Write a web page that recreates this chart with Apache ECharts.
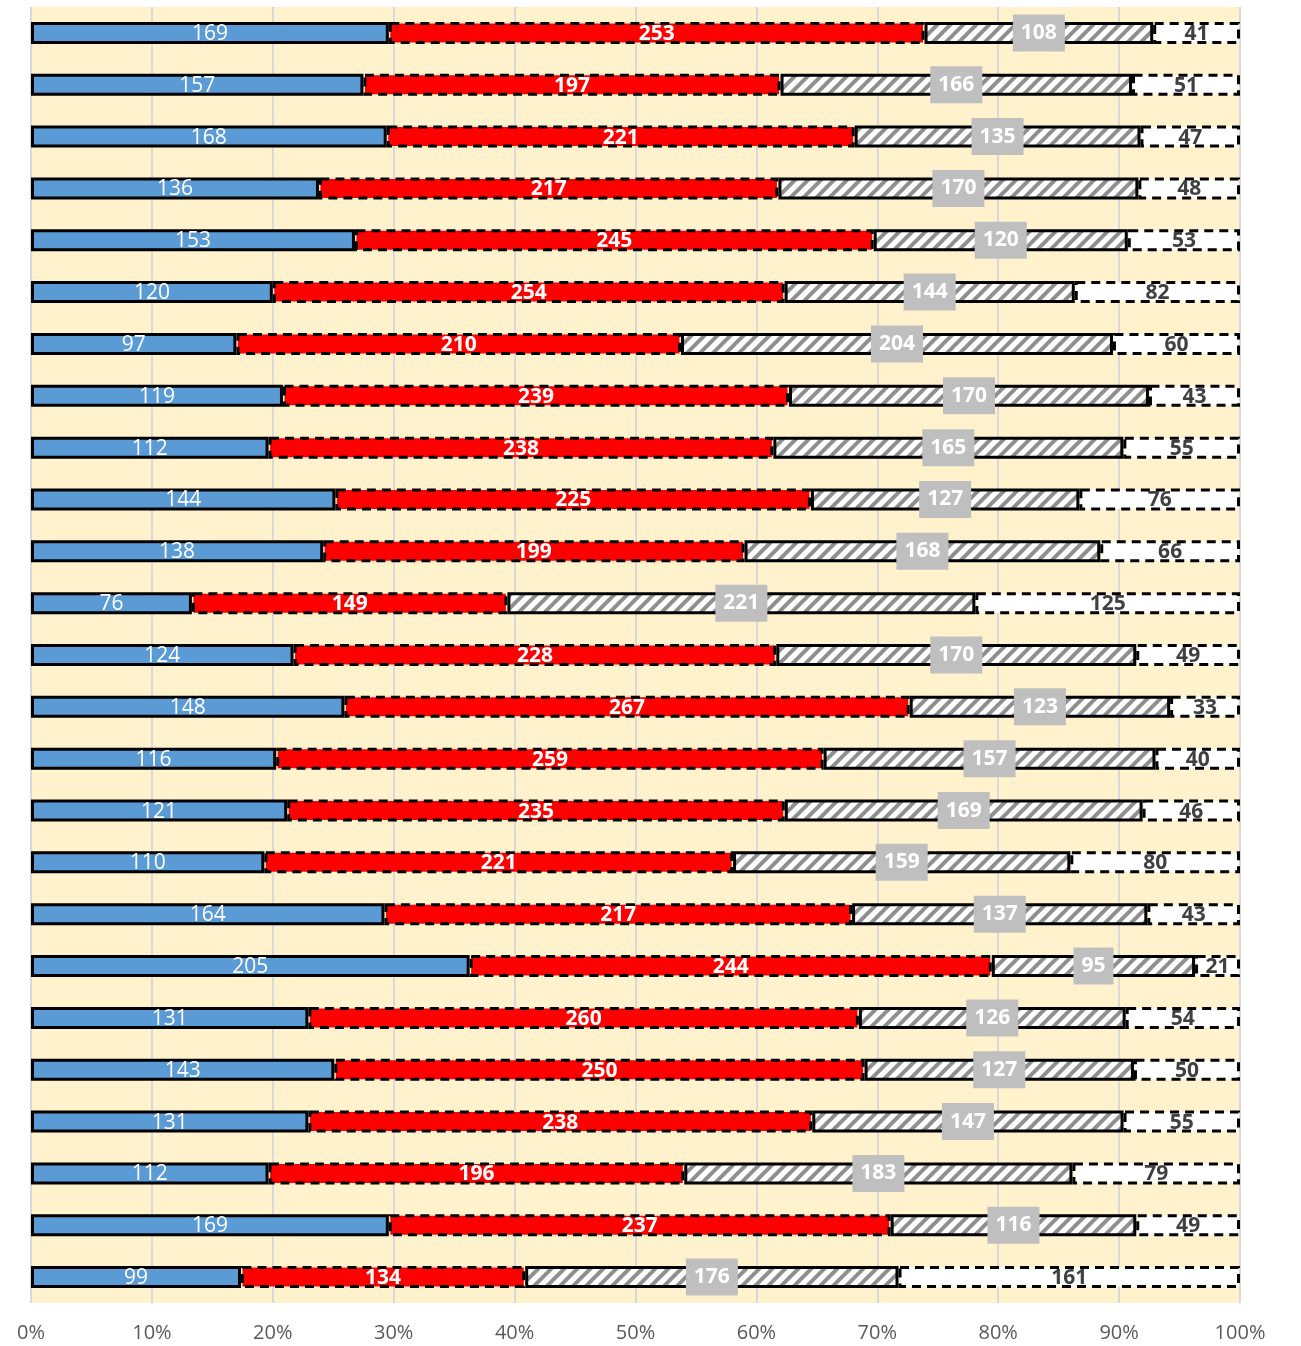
<!DOCTYPE html>
<html>
<head>
<meta charset="utf-8">
<script src="https://cdn.jsdelivr.net/npm/echarts@6/dist/echarts.min.js"></script>
<style>
    html, body { margin: 0; padding: 0; background: #fff; }
    #main { width: 1301px; height: 1346px; }
</style>
</head>
<body>
<div id="main"></div>
<script>
// rows top to bottom
var rows = ['R1', 'R2', 'R3', 'R4', 'R5', 'R6', 'R7', 'R8', 'R9', 'R10', 'R11', 'R12', 'R13',
    'R14', 'R15', 'R16', 'R17', 'R18', 'R19', 'R20', 'R21', 'R22', 'R23', 'R24', 'R25'];
var blueVals = [169, 157, 168, 136, 153, 120, 97, 119, 112, 144, 138, 76, 124, 148, 116, 121, 110, 164, 205, 131, 143, 131, 112, 169, 99];
var redVals = [253, 197, 221, 217, 245, 254, 210, 239, 238, 225, 199, 149, 228, 267, 259, 235, 221, 217, 244, 260, 250, 238, 196, 237, 134];
var hatchVals = [108, 166, 135, 170, 120, 144, 204, 170, 165, 127, 168, 221, 170, 123, 157, 169, 159, 137, 95, 126, 127, 147, 183, 116, 176];
var whiteVals = [41, 51, 47, 48, 53, 82, 60, 43, 55, 76, 66, 125, 49, 33, 40, 46, 80, 43, 21, 54, 50, 55, 79, 49, 161];
var xTicks = ['0%', '10%', '20%', '30%', '40%', '50%', '60%', '70%', '80%', '90%', '100%'];

var totals = rows.map(function (r, i) {
    return blueVals[i] + redVals[i] + hatchVals[i] + whiteVals[i];
});
function pct(arr) {
    return arr.map(function (v, i) { return v / totals[i] * 100; });
}

// diagonal hatch pattern
function hatchCanvas() {
    var s = 13;
    var c = document.createElement('canvas');
    c.width = s; c.height = s;
    var ctx = c.getContext('2d');
    ctx.fillStyle = '#ffffff';
    ctx.fillRect(0, 0, s, s);
    ctx.strokeStyle = '#8f8f8f';
    ctx.lineWidth = 4;
    ctx.beginPath();
    ctx.moveTo(-1, s + 1); ctx.lineTo(s + 1, -1);
    ctx.moveTo(-1 - s, s + 1); ctx.lineTo(1, -1);
    ctx.moveTo(s - 1, s + 1); ctx.lineTo(2 * s + 1, -1);
    ctx.stroke();
    return c;
}

var font = '"Open Sans", "Liberation Sans", sans-serif';

function makeSeries(name, vals, raw, itemStyle, label) {
    return {
        name: name,
        type: 'bar',
        stack: 'total',
        barWidth: 22,
        data: pct(vals),
        itemStyle: itemStyle,
        label: Object.assign({
            show: true,
            position: 'inside',
            fontFamily: font,
            fontSize: 21,
            formatter: function (p) { return raw[p.dataIndex]; }
        }, label)
    };
}

var myChart = echarts.init(document.getElementById('main'));
var option = {
    animation: false,
    grid: { left: 31, right: 61, top: 7, bottom: 43 },
    xAxis: {
        type: 'value',
        min: 0,
        max: 100,
        interval: 10,
        axisLabel: {
            formatter: function (v) { return xTicks[Math.round(v / 10)]; },
            color: '#595959',
            fontFamily: font,
            fontSize: 20,
            margin: 20
        },
        axisLine: { show: false },
        axisTick: { show: false },
        splitLine: { lineStyle: { color: '#d9d9d9', width: 2 } },
        splitArea: { show: true, areaStyle: { color: ['#fff2cc'] } }
    },
    yAxis: {
        type: 'category',
        inverse: true,
        data: rows,
        axisLabel: { show: false },
        axisLine: { show: false },
        axisTick: { show: false }
    },
    series: [
        makeSeries('A', blueVals, blueVals,
            { color: '#5b9bd5', borderColor: '#000', borderWidth: 3 },
            { color: '#ffffff', offset: [0, 1] }),
        makeSeries('B', redVals, redVals,
            { color: '#ff0000', borderColor: '#000', borderWidth: 3, borderType: [9, 6] },
            { color: '#ffffff', fontWeight: 'bold', offset: [0, 1] }),
        makeSeries('C', hatchVals, hatchVals,
            { color: { image: hatchCanvas(), repeat: 'repeat' }, borderColor: '#000', borderWidth: 3 },
            { color: '#ffffff', fontWeight: 'bold', backgroundColor: '#bfbfbf', padding: [9, 8, 7, 8] }),
        makeSeries('D', whiteVals, whiteVals,
            { color: '#ffffff', borderColor: '#000', borderWidth: 3, borderType: [9, 6] },
            { color: '#404040', fontWeight: 'bold', offset: [0, 1] })
    ]
};
myChart.setOption(option);
</script>
</body>
</html>
